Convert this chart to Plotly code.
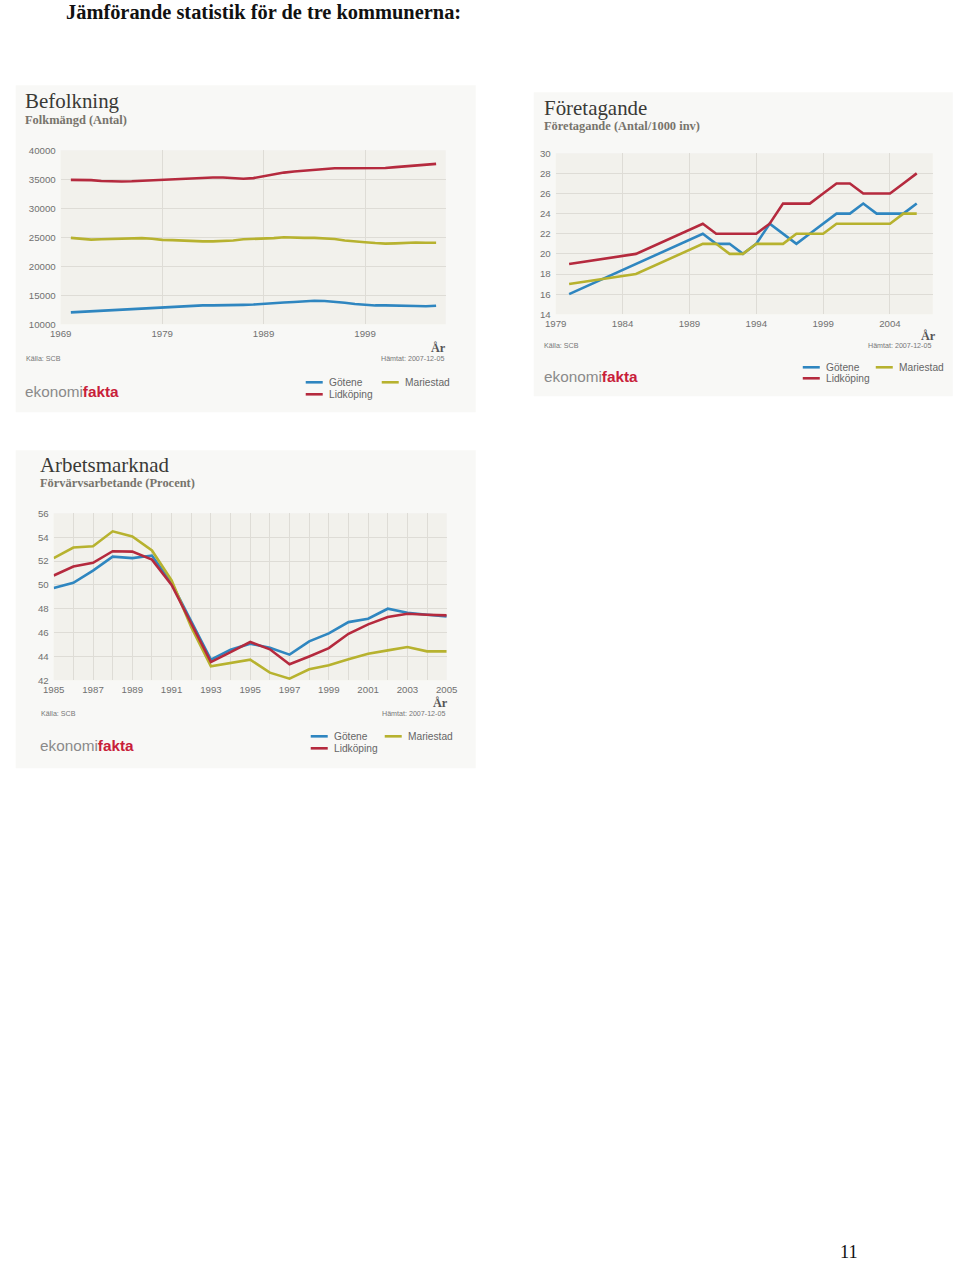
import plotly.graph_objects as go

W, H = 960, 1263

# ---------------- data ----------------
colors = {"Götene": "#2f86c0", "Lidköping": "#b52a3e", "Mariestad": "#b7b22f"}

# Befolkning – Folkmängd (Antal)
pop_years = list(range(1970, 2007))
pop_gotene = [12050, 12150, 12250, 12350, 12450, 12550, 12600, 12700, 12800, 12950,
              13050, 13150, 13250, 13250, 13250, 13250, 13300, 13350, 13400, 13550,
              13650, 13750, 13850, 13950, 14050, 14000, 13900, 13700, 13500, 13350,
              13250, 13250, 13250, 13200, 13150, 13100, 13200]
pop_lidkoping = [34900, 34900, 34850, 34700, 34620, 34620, 34650, 34730, 34800, 34900,
                 35000, 35100, 35200, 35250, 35300, 35300, 35150, 35100, 35200, 35500,
                 35900, 36150, 36350, 36500, 36700, 36850, 36900, 36900, 36900, 36950,
                 36950, 36950, 37100, 37250, 37400, 37550, 37650]
pop_mariestad = [24900, 24700, 24600, 24650, 24700, 24750, 24700, 24850, 24750, 24550,
                 24500, 24400, 24350, 24300, 24300, 24350, 24450, 24650, 24700, 24800,
                 24850, 25000, 24900, 24900, 24900, 24850, 24700, 24450, 24250, 24150,
                 24000, 23900, 23950, 24050, 24100, 24050, 24050]
pop_xticks = [1969, 1979, 1989, 1999]
pop_yticks = [10000, 15000, 20000, 25000, 30000, 35000, 40000]

# Företagande – Antal/1000 inv
fo_years = [1980, 1985, 1990, 1991, 1992, 1993, 1994, 1995, 1996, 1997, 1998, 1999,
            2000, 2001, 2002, 2003, 2004, 2005, 2006]
fo_gotene = [16, 19, 22, 21, 21, 20, 21, 23, 22, 21, 22, 23, 24, 24, 25, 24, 24, 24, 25]
fo_lidkoping = [19, 20, 23, 22, 22, 22, 22, 23, 25, 25, 25, 26, 27, 27, 26, 26, 26, 27, 28]
fo_mariestad = [17, 18, 21, 21, 20, 20, 21, 21, 21, 22, 22, 22, 23, 23, 23, 23, 23, 24, 24]
fo_xticks = [1979, 1984, 1989, 1994, 1999, 2004]
fo_yticks = [14, 16, 18, 20, 22, 24, 26, 28, 30]

# Arbetsmarknad – Förvärvsarbetande (Procent)
ar_years = list(range(1985, 2006))
ar_gotene = [49.73, 50.17, 51.2, 52.37, 52.24, 52.46, 50.14, 46.9, 43.73, 44.57, 45.07,
             44.73, 44.15, 45.26, 45.93, 46.88, 47.16, 48.0, 47.66, 47.5, 47.36]
ar_lidkoping = [50.79, 51.54, 51.85, 52.82, 52.79, 52.12, 50.0, 46.74, 43.53, 44.37, 45.21,
                44.6, 43.34, 44.0, 44.7, 45.9, 46.69, 47.3, 47.58, 47.5, 47.44]
ar_mariestad = [52.24, 53.13, 53.24, 54.49, 54.05, 52.88, 50.37, 46.46, 43.17, 43.42, 43.73,
                42.64, 42.14, 42.92, 43.26, 43.76, 44.23, 44.51, 44.79, 44.43, 44.43]
ar_xticks = list(range(1985, 2006, 2))
ar_yticks = [42, 44, 46, 48, 50, 52, 54, 56]

# ---------------- helpers ----------------
# the photographed page comes out slightly shrunk/offset; compensate so the
# picture lands where the reference has it
SX, OX = 0.977, 10.3
SY, OY = 0.9912, 5.75
FS = 1.02  # font compensation


def fx(x):
    return ((x - OX) / SX) / W


def fy(y):
    return 1 - ((y - OY) / SY) / H


SERIF = "Liberation Serif"
SANS = "Liberation Sans"
PLOT_BG = "#f2f1ec"
GRID = "#dedcd6"
PANEL_BG = "#f8f8f6"
TICKFONT = dict(family=SANS, size=9.5 * FS, color="#707070")

fig = go.Figure()

charts = [
    dict(idx="", years=pop_years,
         series={"Götene": pop_gotene, "Lidköping": pop_lidkoping, "Mariestad": pop_mariestad},
         box=(60, 150, 445, 324), xr=[1969, 2006.95], yr=[10000, 40000],
         xt=pop_xticks, yt=pop_yticks, xminor=None),
    dict(idx="2", years=fo_years,
         series={"Götene": fo_gotene, "Lidköping": fo_lidkoping, "Mariestad": fo_mariestad},
         box=(555, 153, 932, 314), xr=[1979, 2007.2], yr=[14, 30],
         xt=fo_xticks, yt=fo_yticks, xminor=None),
    dict(idx="3", years=ar_years,
         series={"Götene": ar_gotene, "Lidköping": ar_lidkoping, "Mariestad": ar_mariestad},
         box=(53, 513, 446, 680), xr=[1985, 2005], yr=[42, 56],
         xt=ar_xticks, yt=ar_yticks, xminor=1),
]

shapes = []
annotations = []

for (x0, y0, x1, y1) in [(15, 85, 475, 412), (533, 92, 952, 396), (15, 450, 475, 768)]:
    shapes.append(dict(type="rect", xref="paper", yref="paper", layer="below",
                       x0=fx(x0), x1=fx(x1), y0=fy(y1), y1=fy(y0),
                       fillcolor=PANEL_BG, line=dict(width=0)))

layout_axes = {}
for c in charts:
    i = c["idx"]
    xa = "x" + i
    ya = "y" + i
    for nm in ["Götene", "Mariestad", "Lidköping"]:
        fig.add_trace(go.Scatter(x=c["years"], y=c["series"][nm], mode="lines",
                                 name=nm, xaxis=xa, yaxis=ya, showlegend=False,
                                 line=dict(color=colors[nm], width=2.6),
                                 hoverinfo="skip"))
    x0, y0, x1, y1 = c["box"]
    xaxis = dict(domain=[fx(x0), fx(x1)], range=c["xr"], anchor=ya,
                 tickvals=c["xt"], ticktext=[str(v) for v in c["xt"]],
                 showgrid=True, gridcolor=GRID, gridwidth=1, zeroline=False,
                 showline=False, ticks="", tickfont=TICKFONT, ticklabelstandoff=2)
    if c["xminor"]:
        xaxis["minor"] = dict(dtick=c["xminor"], showgrid=True, gridcolor=GRID, gridwidth=1)
    yaxis = dict(domain=[fy(y1), fy(y0)], range=c["yr"], anchor=xa,
                 tickvals=c["yt"], ticktext=[str(v) for v in c["yt"]],
                 showgrid=True, gridcolor=GRID, gridwidth=1,
                 zeroline=False, showline=False, ticks="", tickfont=TICKFONT,
                 ticklabelstandoff=4)
    layout_axes["xaxis" + i] = xaxis
    layout_axes["yaxis" + i] = yaxis
    shapes.append(dict(type="rect", xref="paper", yref="paper", layer="below",
                       x0=fx(x0), x1=fx(x1), y0=fy(y1), y1=fy(y0),
                       fillcolor=PLOT_BG, line=dict(width=0)))


def text(x, y, s, size, color="#333333", family=SERIF, xanchor="left"):
    annotations.append(dict(x=fx(x), y=fy(y), xref="paper", yref="paper",
                            text=s, showarrow=False, xanchor=xanchor, yanchor="middle",
                            font=dict(family=family, size=size * FS, color=color)))


text(63, 12, "<b>Jämförande statistik för de tre kommunerna:</b>", 20, "#111111")
text(848, 1252, "11", 18, "#111111", xanchor="center")

blocks = [
    dict(title="Befolkning", sub="Folkmängd (Antal)", tx=22, ty=101, sy=120,
         ar=(438, 348), ky=359, kx=23, hx=445,
         leg=dict(x1=305, x2=381, ya=382, yb=394), logo=(22, 391)),
    dict(title="Företagande", sub="Företagande (Antal/1000 inv)", tx=541, ty=108, sy=126,
         ar=(928, 336), ky=346, kx=541, hx=932,
         leg=dict(x1=802, x2=875, ya=367, yb=378), logo=(541, 376)),
    dict(title="Arbetsmarknad", sub="Förvärvsarbetande (Procent)", tx=37, ty=465, sy=483,
         ar=(440, 703), ky=714, kx=38, hx=446,
         leg=dict(x1=310, x2=384, ya=736, yb=748), logo=(37, 745)),
]

for b in blocks:
    text(b["tx"], b["ty"], b["title"], 20.5, "#3a3a36")
    text(b["tx"], b["sy"], "<b>" + b["sub"] + "</b>", 12.2, "#77746c")
    text(b["ar"][0], b["ar"][1], "<b>År</b>", 12, "#555555", xanchor="center")
    text(b["kx"], b["ky"], "Källa: SCB", 7, "#777777", family=SANS)
    text(b["hx"], b["ky"], "Hämtat: 2007-12-05", 7, "#777777", family=SANS, xanchor="right")
    lx, ly = b["logo"]
    text(lx, ly, "ekonomi<span style='color:#c8203a'><b>fakta</b></span>", 15, "#8a8a8a",
         family=SANS)
    lg = b["leg"]
    entries = [("Götene", lg["x1"], lg["ya"]), ("Mariestad", lg["x2"], lg["ya"]),
               ("Lidköping", lg["x1"], lg["yb"])]
    for nm, ex, ey in entries:
        shapes.append(dict(type="line", xref="paper", yref="paper",
                           x0=fx(ex), x1=fx(ex + 17), y0=fy(ey), y1=fy(ey),
                           line=dict(color=colors[nm], width=2.6)))
        text(ex + 21, ey, nm, 10, "#666666", family=SANS)

fig.update_layout(
    width=W, height=H, autosize=False,
    margin=dict(l=0, r=0, t=0, b=0),
    paper_bgcolor="white", plot_bgcolor="rgba(0,0,0,0)",
    shapes=shapes, annotations=annotations, showlegend=False,
    **layout_axes,
)

fig.write_html(
    "out.html",
    config={"displayModeBar": False, "staticPlot": True},
    post_script=(
        "document.documentElement.style.margin='0';"
        "document.documentElement.style.padding='0';"
        "document.body.style.margin='0';document.body.style.padding='0';"
        "document.body.style.overflow='hidden';"
        "var gd=document.getElementById('{plot_id}');"
        "gd.style.position='fixed';gd.style.left='0px';gd.style.top='0px';"
    ),
)
